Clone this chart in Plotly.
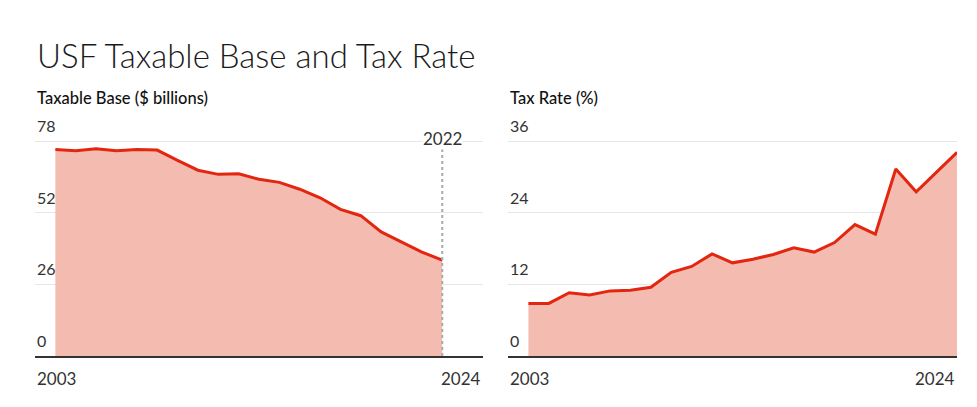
import plotly.graph_objects as go

years_base = list(range(2003, 2023))
taxable_base = [74.9, 74.5, 75.2, 74.5, 74.9, 74.7, 71.0, 67.4, 65.9, 66.1,
                64.1, 63.0, 60.5, 57.4, 53.2, 50.9, 45.0, 41.3, 37.7, 34.8]
years_rate = list(range(2003, 2025))
tax_rate = [8.8, 8.8, 10.6, 10.2, 10.9, 11.0, 11.5, 14.0, 15.0, 17.1, 15.6,
            16.2, 17.0, 18.1, 17.4, 19.0, 22.0, 20.4, 31.3, 27.5, 30.8, 34.1]
base_ticks = [0, 26, 52, 78]
rate_ticks = [0, 12, 24, 36]
x_start_label = "2003"
x_end_label = "2024"
marker_year = 2022

LINE = "#e3260f"
FILL = "#f4bcb1"
GRID = "#e6e6e6"
TXT = "#333333"
FONT = "Lato"

# page body has an 8px margin; compensate so the plot lands where the reference is
OFF = 8
W, H = 977 - OFF, 407 - OFF
ML = 35 - OFF
TOP = 139 - OFF          # plot top (2px above top gridline)
BOT = 356 - OFF          # plot bottom (x axis line)
RIGHT = 957 - OFF
MR = W - RIGHT
MB = H - BOT
pw = W - ML - MR
d1 = [0, (483 - 35) / pw]
d2 = [(508 - 35) / pw, 1]
grid_top_px = 141 - OFF
scale = (BOT - TOP) / (BOT - grid_top_px)

fig = go.Figure()
fig.add_trace(go.Scatter(x=years_base, y=taxable_base, mode="lines",
                         line=dict(color=LINE, width=3), fill="tozeroy",
                         fillcolor=FILL, xaxis="x", yaxis="y", hoverinfo="skip"))
fig.add_trace(go.Scatter(x=years_rate, y=tax_rate, mode="lines",
                         line=dict(color=LINE, width=3), fill="tozeroy",
                         fillcolor=FILL, xaxis="x2", yaxis="y2", hoverinfo="skip"))

xcommon = dict(range=[2002, 2024], showgrid=False, zeroline=False, showline=True,
               linecolor="#333333", linewidth=1.5, showticklabels=False, ticks="")
ycommon = dict(showgrid=True, gridcolor=GRID, gridwidth=1, zeroline=False,
               showticklabels=False, ticks="", showline=False)

fig.update_layout(
    width=W, height=H,
    margin=dict(l=ML, r=MR, t=TOP, b=MB, pad=0),
    paper_bgcolor="white", plot_bgcolor="white",
    showlegend=False,
    font=dict(family=FONT, color=TXT),
    xaxis=dict(domain=d1, anchor="y", **xcommon),
    yaxis=dict(domain=[0, 1], anchor="x", range=[0, base_ticks[-1] * scale],
               tickvals=base_ticks, **ycommon),
    xaxis2=dict(domain=d2, anchor="y2", **xcommon),
    yaxis2=dict(domain=[0, 1], anchor="x2", range=[0, rate_ticks[-1] * scale],
                tickvals=rate_ticks, **ycommon),
)

# reference line at the last year of taxable base data
fig.add_shape(type="line", xref="x", yref="y", x0=marker_year, x1=marker_year,
              y0=0, y1=base_ticks[-1] * 0.985, layer="above",
              line=dict(color="#aaaaaa", width=2, dash="dot"))
fig.add_annotation(xref="x", yref="y", x=marker_year, y=base_ticks[-1],
                   text=str(marker_year), showarrow=False, yanchor="middle",
                   yshift=3, font=dict(size=17, color=TXT, family=FONT),
                   bgcolor="white", borderpad=0)

# y tick labels above gridlines, x end labels below axis
for xr, yr, ticks in [("x domain", "y", base_ticks), ("x2 domain", "y2", rate_ticks)]:
    for t in ticks:
        fig.add_annotation(xref=xr, yref=yr, x=0, y=t, text=str(t), showarrow=False,
                           xanchor="left", yanchor="bottom", yshift=4, xshift=0,
                           font=dict(size=16, color=TXT, family=FONT))
    for xv, anc in [(0, "left"), (1, "right")]:
        fig.add_annotation(xref=xr, yref="paper", x=xv, y=0,
                           text=x_start_label if xv == 0 else x_end_label,
                           showarrow=False, xanchor=anc, yanchor="top", yshift=-10,
                           font=dict(size=17, color=TXT, family=FONT))

# titles
fig.add_annotation(xref="paper", yref="paper", x=0, y=1, xanchor="left", yanchor="middle",
                   yshift=139 - 55, text="USF Taxable Base and Tax Rate", showarrow=False,
                   font=dict(size=33, color="#1a1a1a", family=FONT, weight=300))
fig.add_annotation(xref="x domain", yref="paper", x=0, y=1, xanchor="left", yanchor="middle",
                   yshift=139 - 98, text="Taxable Base ($ billions)", showarrow=False,
                   font=dict(size=16.5, color="#111111", family=FONT, weight=500))
fig.add_annotation(xref="x2 domain", yref="paper", x=0, y=1, xanchor="left", yanchor="middle",
                   yshift=139 - 98, text="Tax Rate (%)", showarrow=False,
                   font=dict(size=16.5, color="#111111", family=FONT, weight=500))

fig.write_html("out.html")
